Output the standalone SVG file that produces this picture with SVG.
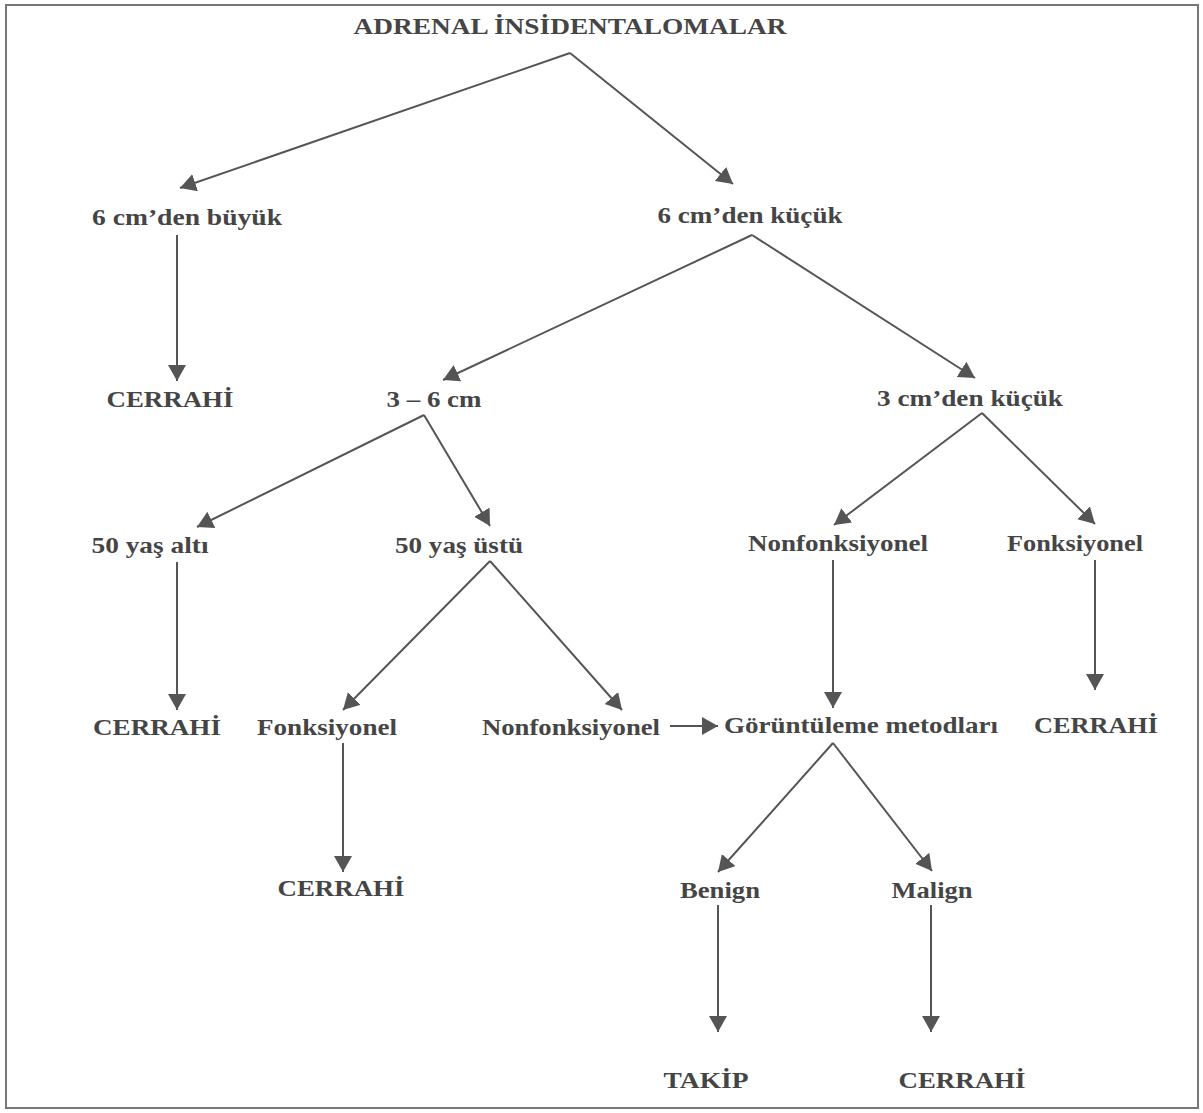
<svg xmlns="http://www.w3.org/2000/svg" width="1203" height="1113" viewBox="0 0 1203 1113">
<style>
  text { font-family: "Liberation Serif", "Times New Roman", serif; font-weight: bold; font-size: 24px; fill: #454545; text-anchor: middle; }
  .c line { stroke: #555; stroke-width: 2; fill: none; marker-end: url(#ah); }
</style>
<defs>
  <marker id="ah" markerUnits="userSpaceOnUse" markerWidth="17" markerHeight="19" refX="16" refY="9" orient="auto" viewBox="0 0 17 19">
    <path d="M0,0 L16,9 L0,18 z" fill="#555"/>
  </marker>
</defs>
<rect x="6" y="5" width="1192" height="1103" fill="#fff" stroke="#777" stroke-width="2"/>

<g id="connectors" class="c">
  <line x1="570" y1="53" x2="180" y2="188"/>
  <line x1="570" y1="53" x2="733" y2="184"/>
  <line x1="177" y1="235" x2="177" y2="381"/>
  <line x1="752" y1="235" x2="443" y2="380"/>
  <line x1="752" y1="235" x2="975" y2="378"/>
  <line x1="424" y1="415" x2="197" y2="527"/>
  <line x1="424" y1="415" x2="490" y2="526"/>
  <line x1="982" y1="413" x2="834" y2="525"/>
  <line x1="982" y1="413" x2="1095" y2="524"/>
  <line x1="177" y1="562" x2="177" y2="710"/>
  <line x1="490" y1="561" x2="343" y2="710"/>
  <line x1="490" y1="561" x2="622" y2="710"/>
  <line x1="833" y1="560" x2="833" y2="708"/>
  <line x1="1095" y1="560" x2="1095" y2="690"/>
  <line x1="343" y1="743" x2="343" y2="872"/>
  <line x1="670" y1="726" x2="718" y2="726"/>
  <line x1="833" y1="743" x2="718" y2="872"/>
  <line x1="833" y1="743" x2="932" y2="871"/>
  <line x1="718" y1="905" x2="718" y2="1032"/>
  <line x1="931" y1="905" x2="931" y2="1032"/>
</g>

<g id="n-title"><text x="570" y="34" textLength="433" lengthAdjust="spacingAndGlyphs">ADRENAL İNSİDENTALOMALAR</text></g>
<g id="n-6buyuk"><text x="187" y="225" textLength="190" lengthAdjust="spacingAndGlyphs">6 cm’den büyük</text></g>
<g id="n-6kucuk"><text x="750" y="223" textLength="185" lengthAdjust="spacingAndGlyphs">6 cm’den küçük</text></g>
<g id="n-cerrahi1"><text x="170" y="407" textLength="127" lengthAdjust="spacingAndGlyphs">CERRAHİ</text></g>
<g id="n-3-6"><text x="434" y="407" textLength="95" lengthAdjust="spacingAndGlyphs">3 – 6 cm</text></g>
<g id="n-3kucuk"><text x="970" y="406" textLength="186" lengthAdjust="spacingAndGlyphs">3 cm’den küçük</text></g>
<g id="n-50alti"><text x="150" y="553" textLength="117" lengthAdjust="spacingAndGlyphs">50 yaş altı</text></g>
<g id="n-50ustu"><text x="459" y="553" textLength="128" lengthAdjust="spacingAndGlyphs">50 yaş üstü</text></g>
<g id="n-nonfonk-r"><text x="838" y="551" textLength="180" lengthAdjust="spacingAndGlyphs">Nonfonksiyonel</text></g>
<g id="n-fonk-r"><text x="1075" y="551" textLength="136" lengthAdjust="spacingAndGlyphs">Fonksiyonel</text></g>
<g id="n-cerrahi2"><text x="157" y="735" textLength="128" lengthAdjust="spacingAndGlyphs">CERRAHİ</text></g>
<g id="n-fonk-m"><text x="327" y="735" textLength="140" lengthAdjust="spacingAndGlyphs">Fonksiyonel</text></g>
<g id="n-nonfonk-m"><text x="571" y="735" textLength="178" lengthAdjust="spacingAndGlyphs">Nonfonksiyonel</text></g>
<g id="n-goruntuleme"><text x="861" y="733" textLength="274" lengthAdjust="spacingAndGlyphs">Görüntüleme metodları</text></g>
<g id="n-cerrahi3"><text x="1096" y="733" textLength="124" lengthAdjust="spacingAndGlyphs">CERRAHİ</text></g>
<g id="n-cerrahi4"><text x="341" y="896" textLength="127" lengthAdjust="spacingAndGlyphs">CERRAHİ</text></g>
<g id="n-benign"><text x="720" y="898" textLength="80" lengthAdjust="spacingAndGlyphs">Benign</text></g>
<g id="n-malign"><text x="932" y="898" textLength="81" lengthAdjust="spacingAndGlyphs">Malign</text></g>
<g id="n-takip"><text x="706" y="1088" textLength="85" lengthAdjust="spacingAndGlyphs">TAKİP</text></g>
<g id="n-cerrahi5"><text x="962" y="1088" textLength="127" lengthAdjust="spacingAndGlyphs">CERRAHİ</text></g>
</svg>
